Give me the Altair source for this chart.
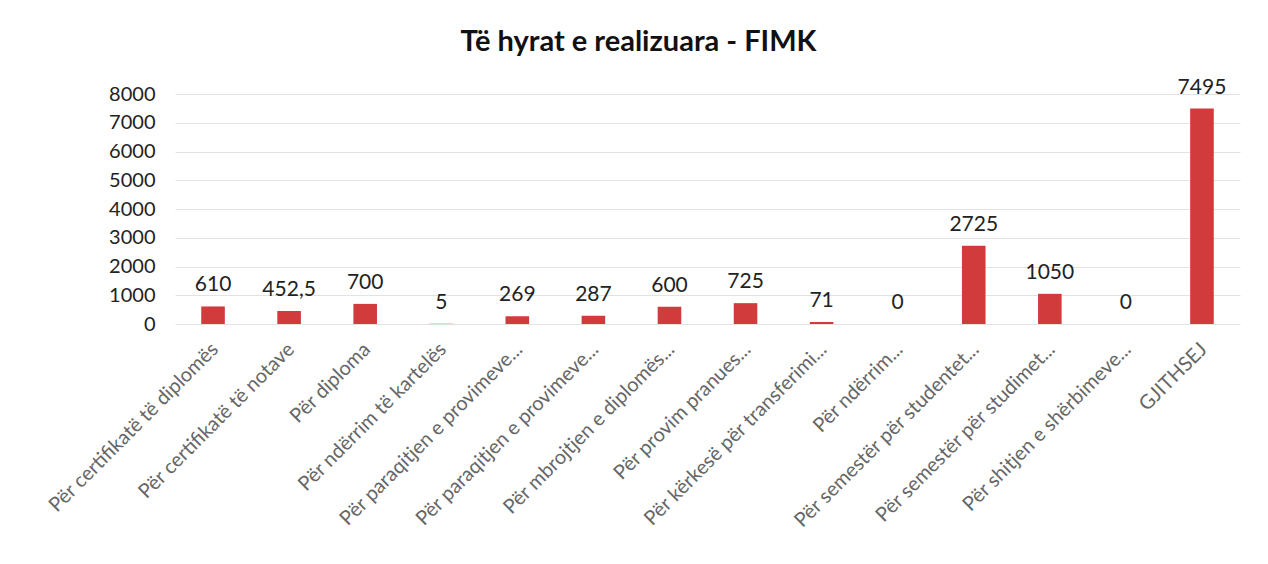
import altair as alt
import pandas as pd

categories = [
    "Për certifikatë të diplomës",
    "Për certifikatë të notave",
    "Për diploma",
    "Për ndërrim të kartelës",
    "Për paraqitjen e provimeve...",
    "Për paraqitjen e provimeve...",
    "Për mbrojtjen e diplomës...",
    "Për provim pranues...",
    "Për kërkesë për transferimi...",
    "Për ndërrim...",
    "Për semestër për studentet...",
    "Për semestër për studimet...",
    "Për  shitjen e shërbimeve...",
    "GJITHSEJ",
]
values = [610, 452.5, 700, 5, 269, 287, 600, 725, 71, 0, 2725, 1050, 0, 7495]
value_labels = ["610", "452,5", "700", "5", "269", "287", "600", "725", "71", "0", "2725", "1050", "0", "7495"]
y_ticks = [0, 1000, 2000, 3000, 4000, 5000, 6000, 7000, 8000]

# unique keys so duplicated category names keep their own band
keys = [f"{i:02d}" for i in range(len(categories))]
df = pd.DataFrame({"key": keys, "cat": categories, "value": values, "lbl": value_labels})

label_expr = "{" + ",".join(f"'{k}': '{c}'" for k, c in zip(keys, categories)) + "}[datum.value]"

FONT = "Lato"

x = alt.X(
    "key:N",
    sort=keys,
    title=None,
    scale=alt.Scale(paddingInner=0.69, paddingOuter=0.345),
    axis=alt.Axis(
        labelExpr=label_expr,
        labelAngle=-45,
        labelAlign="right",
        labelBaseline="middle",
        labelFontSize=20,
        labelColor="#666666",
        labelFont=FONT,
        labelPadding=22,
        labelOffset=2,
        labelOverlap=False,
        ticks=False,
        domain=False,
        grid=False,
        labelLimit=400,
    ),
)

y = alt.Y(
    "value:Q",
    title=None,
    scale=alt.Scale(domain=[0, 8000], nice=False),
    axis=alt.Axis(
        values=y_ticks,
        format="d",
        labelOverlap=False,
        labelFontSize=20,
        labelColor="#222222",
        labelFont=FONT,
        labelPadding=20,
        ticks=False,
        domain=False,
        gridColor="#E2E2E2",
        gridWidth=1,
    ),
)

bars = alt.Chart(df).mark_bar(color="#D13B3B").encode(x=x, y=y)

text = alt.Chart(df).mark_text(
    baseline="bottom", dy=-11, fontSize=21, font=FONT, color="#222222"
).encode(x=x, y=y, text="lbl:N")

chart = (
    (bars + text)
    .properties(
        width=1065,
        height=230,
        autosize=alt.AutoSizeParams(type="none"),
        padding={"left": 167, "top": 86, "right": 20, "bottom": 225},
        view=alt.ViewBackground(stroke="transparent", strokeWidth=0),
        title=alt.TitleParams(
            "Të hyrat e realizuara - FIMK",
            font=FONT,
            fontSize=29,
            fontWeight="bold",
            color="#111111",
            anchor="middle",
            dx=-69,
            offset=20,
        ),
    )
    .configure_view(stroke="transparent", strokeWidth=0)
    .configure(background="white")
)

chart.save("out.html", embed_options={"renderer": "svg", "actions": False})
